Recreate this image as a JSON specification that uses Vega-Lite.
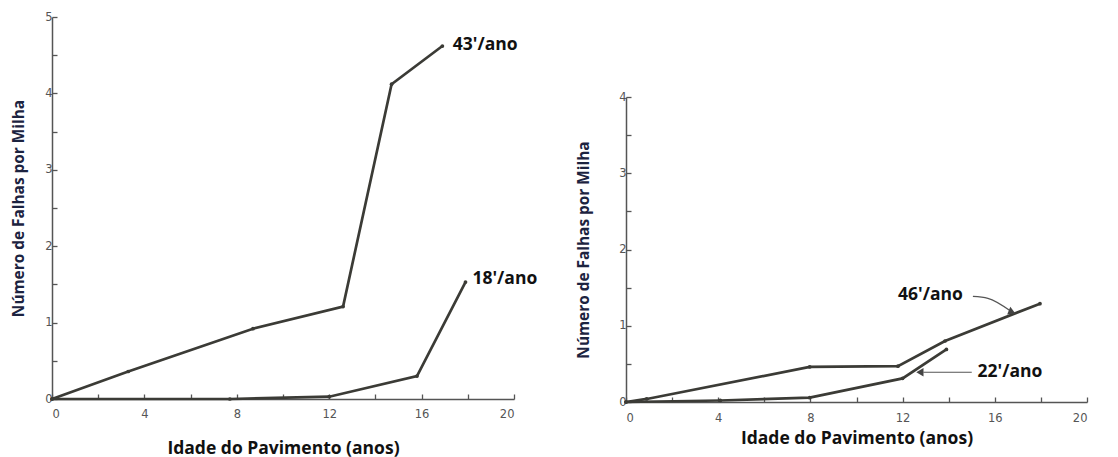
{
  "$schema": "https://vega.github.io/schema/vega-lite/v6.json",
  "padding": {"left": 11, "top": 11, "right": 5, "bottom": 2},
  "background": "white",
  "config": {
    "view": {"stroke": null},
    "axis": {
      "grid": false,
      "domainColor": "#555",
      "domainWidth": 1.5,
      "tickColor": "#555",
      "tickWidth": 1.3,
      "tickSize": -5,
      "labelFont": "DejaVu Sans",
      "labelFontSize": 11.5,
      "labelColor": "#555",
      "titleFont": "Open Sans",
      "titleFontWeight": "bold"
    }
  },
  "datasets": {
    "left": [
      {"serie": "43", "idade": 0, "falhas": 0},
      {"serie": "43", "idade": 3.3, "falhas": 0.36},
      {"serie": "43", "idade": 8.7, "falhas": 0.92},
      {"serie": "43", "idade": 12.6, "falhas": 1.21},
      {"serie": "43", "idade": 14.7, "falhas": 4.12},
      {"serie": "43", "idade": 16.9, "falhas": 4.62},
      {"serie": "18", "idade": 0, "falhas": 0},
      {"serie": "18", "idade": 7.7, "falhas": 0},
      {"serie": "18", "idade": 12, "falhas": 0.03},
      {"serie": "18", "idade": 15.8, "falhas": 0.3},
      {"serie": "18", "idade": 17.9, "falhas": 1.53}
    ],
    "leftLabels": [
      {"txt": "43'/ano", "idade": 17.35, "falhas": 4.63},
      {"txt": "18'/ano", "idade": 18.2, "falhas": 1.57}
    ],
    "right": [
      {"serie": "46", "idade": 0, "falhas": 0},
      {"serie": "46", "idade": 0.9, "falhas": 0.04},
      {"serie": "46", "idade": 7.97, "falhas": 0.46},
      {"serie": "46", "idade": 11.8, "falhas": 0.47},
      {"serie": "46", "idade": 13.84, "falhas": 0.8},
      {"serie": "46", "idade": 17.96, "falhas": 1.29},
      {"serie": "22", "idade": 0, "falhas": 0},
      {"serie": "22", "idade": 4.09, "falhas": 0.02},
      {"serie": "22", "idade": 7.97, "falhas": 0.057},
      {"serie": "22", "idade": 12, "falhas": 0.31},
      {"serie": "22", "idade": 13.9, "falhas": 0.69}
    ],
    "rightLabels": [
      {"txt": "46'/ano", "idade": 11.8, "falhas": 1.4},
      {"txt": "22'/ano", "idade": 15.25, "falhas": 0.39}
    ],
    "leaders": [
      {"lead": "46", "idade": 15.05, "falhas": 1.385},
      {"lead": "46", "idade": 15.7, "falhas": 1.36},
      {"lead": "46", "idade": 16.7, "falhas": 1.19},
      {"lead": "22", "idade": 15.0, "falhas": 0.39},
      {"lead": "22", "idade": 12.9, "falhas": 0.39}
    ],
    "heads": [
      {"lead": "46", "idade": 16.75, "falhas": 1.18},
      {"lead": "22", "idade": 12.75, "falhas": 0.39}
    ]
  },
  "hconcat": [
    {
      "width": 462,
      "height": 382,
      "encoding": {
        "x": {
          "field": "idade", "type": "quantitative",
          "scale": {"domain": [0, 20], "nice": false},
          "axis": {
            "values": [0, 2, 4, 6, 8, 10, 12, 14, 16, 18, 20],
            "labelExpr": "datum.value % 4 === 0 ? format(datum.value, 'd') : ''",
            "labelPadding": 14,
            "title": "Idade do Pavimento (anos)",
            "titleFontSize": 17.5,
            "titleColor": "#111",
            "titlePadding": 20
          }
        },
        "y": {
          "field": "falhas", "type": "quantitative",
          "scale": {"domain": [0, 5], "nice": false},
          "axis": {
            "values": [0, 0.5, 1, 1.5, 2, 2.5, 3, 3.5, 4, 4.5, 5],
            "labelExpr": "datum.value % 1 === 0 ? format(datum.value, 'd') : ''",
            "labelPadding": 5,
            "title": "Número de Falhas por Milha",
            "titleFontSize": 15.4,
            "titleColor": "#1c2340",
            "titlePadding": 18
          }
        }
      },
      "layer": [
        {
          "data": {"name": "left"},
          "mark": {"type": "line", "color": "#3b3b36", "strokeWidth": 2.7,
                   "point": {"filled": true, "size": 14, "color": "#3b3b36"}},
          "encoding": {"detail": {"field": "serie"}}
        },
        {
          "data": {"name": "leftLabels"},
          "mark": {"type": "text", "align": "left", "baseline": "middle", "font": "Open Sans",
                   "fontWeight": "bold", "fontSize": 17.5, "color": "#111"},
          "encoding": {"text": {"field": "txt"}}
        }
      ]
    },
    {
      "spacing": 20,
      "vconcat": [
        {
          "width": 1, "height": 54,
          "data": {"values": []},
          "mark": "point",
          "encoding": {}
        },
        {
          "width": 461,
          "height": 305,
          "encoding": {
            "x": {
              "field": "idade", "type": "quantitative",
              "scale": {"domain": [0, 20], "nice": false},
              "axis": {
                "values": [0, 2, 4, 6, 8, 10, 12, 14, 16, 18, 20],
                "labelExpr": "datum.value % 4 === 0 ? format(datum.value, 'd') : ''",
                "labelPadding": 15,
                "title": "Idade do Pavimento (anos)",
                "titleFontSize": 17.5,
                "titleColor": "#111",
                "titlePadding": 6
              }
            },
            "y": {
              "field": "falhas", "type": "quantitative",
              "scale": {"domain": [0, 4], "nice": false},
              "axis": {
                "values": [0, 0.5, 1, 1.5, 2, 2.5, 3, 3.5, 4],
                "labelExpr": "datum.value % 1 === 0 ? format(datum.value, 'd') : ''",
                "labelPadding": 5,
                "title": "Número de Falhas por Milha",
                "titleFontSize": 15.4,
                "titleColor": "#1c2340",
                "titlePadding": 27
              }
            }
          },
          "layer": [
            {
              "data": {"name": "right"},
              "mark": {"type": "line", "color": "#3b3b36", "strokeWidth": 2.7,
                       "point": {"filled": true, "size": 14, "color": "#3b3b36"}},
              "encoding": {"detail": {"field": "serie"}}
            },
            {
              "data": {"name": "leaders"},
              "mark": {"type": "line", "color": "#555", "strokeWidth": 1.2, "interpolate": "monotone"},
              "encoding": {"detail": {"field": "lead"}}
            },
            {
              "data": {"name": "heads"},
              "transform": [{"filter": "datum.lead === '46'"}],
              "mark": {"type": "point", "shape": "triangle-right", "filled": true, "color": "#444",
                       "size": 70, "angle": 22, "opacity": 1},
              "encoding": {}
            },
            {
              "data": {"name": "heads"},
              "transform": [{"filter": "datum.lead === '22'"}],
              "mark": {"type": "point", "shape": "triangle-left", "filled": true, "color": "#444",
                       "size": 70, "opacity": 1},
              "encoding": {}
            },
            {
              "data": {"name": "rightLabels"},
              "mark": {"type": "text", "align": "left", "baseline": "middle", "font": "Open Sans",
                       "fontWeight": "bold", "fontSize": 17.5, "color": "#111"},
              "encoding": {"text": {"field": "txt"}}
            }
          ]
        }
      ]
    }
  ],
  "spacing": 38
}
